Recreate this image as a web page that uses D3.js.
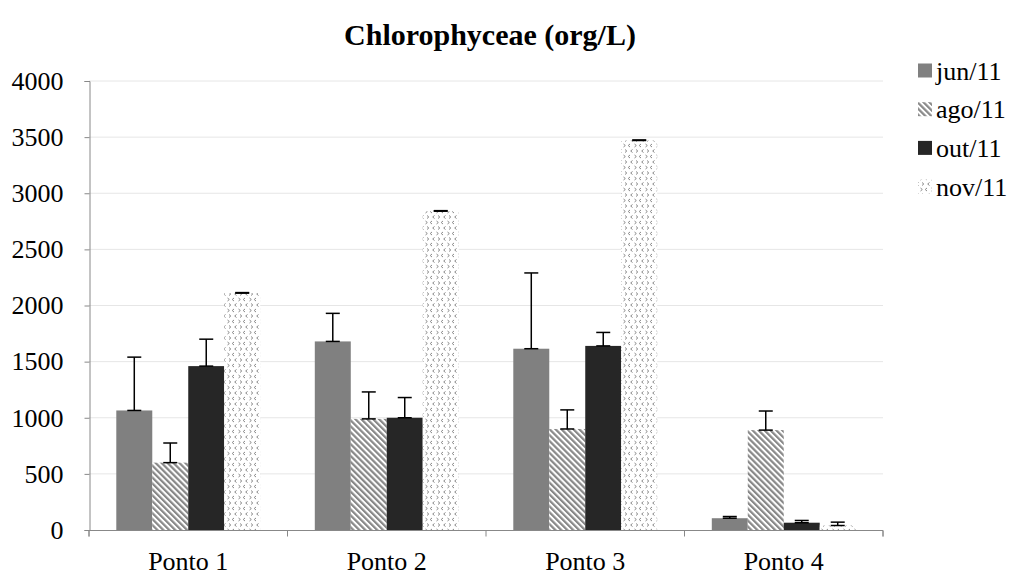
<!DOCTYPE html>
<html><head><meta charset="utf-8">
<script src="https://cdn.jsdelivr.net/npm/d3@7"></script>
<style>body{margin:0;background:#fff}svg{display:block}</style>
</head><body>
<svg id="c" width="1013" height="575"></svg>
<script>
const categories = ["Ponto 1","Ponto 2","Ponto 3","Ponto 4"];
const seriesNames = ["jun/11","ago/11","out/11","nov/11"];
const jun = [1065, 1680, 1615, 105];
const ago = [600, 990, 900, 890];
const out = [1460, 1000, 1640, 65];
const nov = [2110, 2840, 3470, 40];
const junErr = [1540, 1930, 2290, 120];
const agoErr = [775, 1230, 1070, 1060];
const outErr = [1700, 1180, 1760, 85];
const novErr = [2115, 2845, 3475, 70];
const yTicks = [0,500,1000,1500,2000,2500,3000,3500,4000];

const values = [jun, ago, out, nov];
const errs = [junErr, agoErr, outErr, novErr];

const svg = d3.select("#c");
const font = "'Liberation Serif','Times New Roman',serif";
const defs = svg.append("defs");
const ph = defs.append("pattern").attr("id","hatch").attr("patternUnits","userSpaceOnUse")
  .attr("width",4.2).attr("height",4.2).attr("patternTransform","rotate(-45)");
ph.append("rect").attr("width",4.2).attr("height",4.2).attr("fill","#fff");
ph.append("rect").attr("x",0).attr("width",2.2).attr("height",4.2).attr("fill","#888");
const pd = defs.append("pattern").attr("id","dots").attr("patternUnits","userSpaceOnUse")
  .attr("width",11).attr("height",11).attr("x",0).attr("y",0);
pd.append("rect").attr("width",11).attr("height",11).attr("fill","#fff");
["M3,1 L1.2,2.5 L3,4","M7.5,1 L9.3,2.5 L7.5,4","M5.5,6.5 L3.7,8 L5.5,9.5","M9,6.5 L10.8,8 L9,9.5"]
  .forEach(d=>pd.append("path").attr("d",d).attr("stroke","#8a8a8a").attr("stroke-width",1).attr("fill","none"));

const fills = ["#808080","url(#hatch)","#262626","url(#dots)"];

const x0 = d3.scaleBand().domain(categories).range([89,883]).paddingInner(0.275).paddingOuter(0.1375);
const x1 = d3.scaleBand().domain(seriesNames).range([0,x0.bandwidth()]);
const y = d3.scaleLinear().domain([0,4000]).range([530,81]);

svg.append("g").selectAll("line").data(yTicks.slice(1)).join("line")
  .attr("x1",89).attr("x2",883).attr("y1",d=>y(d)).attr("y2",d=>y(d))
  .attr("stroke","#e6e6e6").attr("stroke-width",1);

const ya = svg.append("g").attr("transform","translate(89.5,0)")
  .call(d3.axisLeft(y).tickValues(yTicks).tickSize(5).tickPadding(21).tickFormat(d3.format("d")));
ya.select(".domain").attr("stroke","#888");
ya.selectAll(".tick line").attr("stroke","#888");
ya.selectAll("text").attr("font-family",font).attr("font-size",26).attr("fill","#000");

const g = svg.append("g");
seriesNames.forEach((s,si)=>{
  g.append("g").selectAll("rect").data(categories).join("rect")
    .attr("x",c=>x0(c)+x1(s)).attr("width",x1.bandwidth())
    .attr("y",(c,i)=>y(values[si][i])).attr("height",(c,i)=>y(0)-y(values[si][i]))
    .attr("fill",fills[si]);
});
seriesNames.forEach((s,si)=>{
  const eg = g.append("g").attr("stroke","#000").attr("stroke-width",1.5);
  categories.forEach((c,i)=>{
    const cx = x0(c)+x1(s)+x1.bandwidth()/2;
    eg.append("line").attr("x1",cx).attr("x2",cx).attr("y1",y(values[si][i])).attr("y2",y(errs[si][i]));
    eg.append("line").attr("x1",cx-7).attr("x2",cx+7).attr("y1",y(errs[si][i])).attr("y2",y(errs[si][i]));
    eg.append("line").attr("x1",cx-7).attr("x2",cx+7).attr("y1",y(values[si][i])).attr("y2",y(values[si][i]));
  });
});

const xa = svg.append("g").attr("transform","translate(0,530.5)")
  .call(d3.axisBottom(x0).tickSize(0));
xa.select(".domain").attr("stroke","#888").attr("d","M89,6V0H883V6");
xa.selectAll("text").attr("font-family",font).attr("font-size",26).attr("fill","#000")
  .attr("y",39).attr("dy",0);
const bounds = [89, 287.5, 486, 684.5, 883];
xa.selectAll(".sep").data(bounds).join("line").attr("class","sep")
  .attr("x1",d=>d).attr("x2",d=>d).attr("y1",0).attr("y2",6).attr("stroke","#888");

svg.append("text").attr("x",490).attr("y",45).attr("text-anchor","middle")
  .attr("font-family",font).attr("font-size",30).attr("font-weight","bold").text("Chlorophyceae (org/L)");

const lg = svg.append("g");
seriesNames.forEach((s,i)=>{
  const yy = 70.5 + i*38.7;
  lg.append("rect").attr("x",918).attr("y",yy-7).attr("width",14).attr("height",14).attr("fill",fills[i]);
  lg.append("text").attr("x",936).attr("y",yy).attr("dy","0.35em")
    .attr("font-family",font).attr("font-size",26).text(s);
});
</script>
</body></html>
